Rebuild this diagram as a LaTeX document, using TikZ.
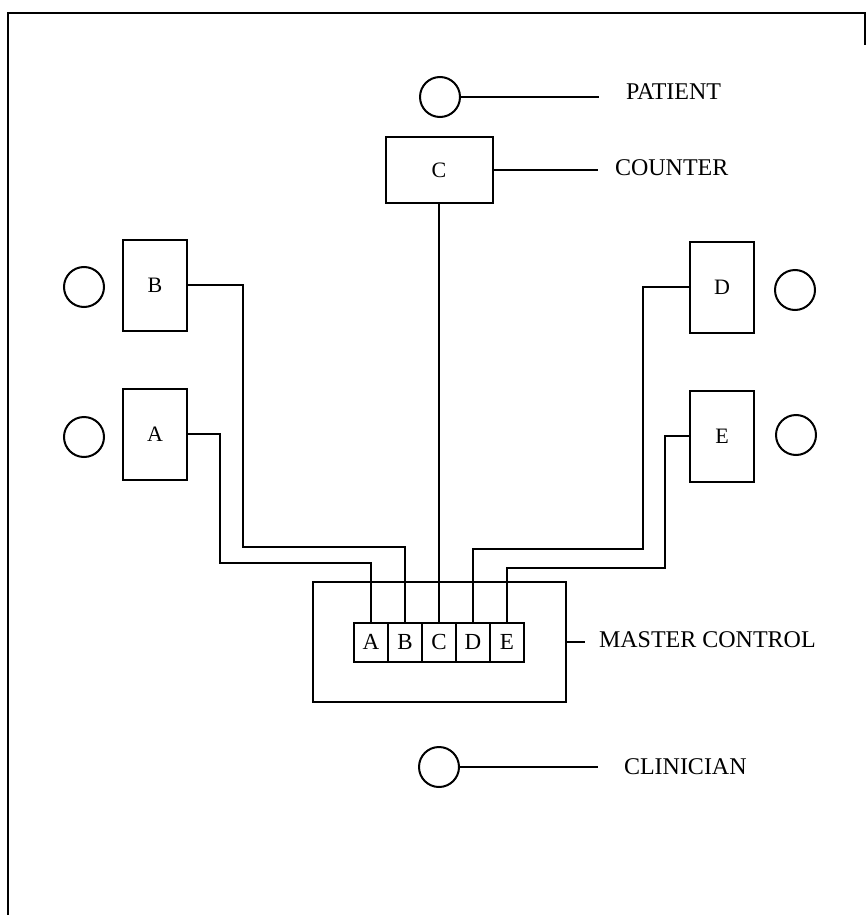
\documentclass[tikz,border=0pt]{standalone}
\usepackage{fontspec}
\setmainfont{Liberation Serif}
\usetikzlibrary{positioning,calc}

\begin{document}
\begin{tikzpicture}[x=1pt,y=-1pt,line width=2pt]
    \tikzset{station/.style={draw,minimum width=64pt,minimum height=91pt,
      font=\fontsize{22}{24}\selectfont},
      lamp/.style={draw,circle,minimum size=40pt,inner sep=0pt},
      key/.style={draw,minimum width=34pt,minimum height=39pt,inner sep=0pt,
      font=\fontsize{23}{24}\selectfont},
      tag/.style={anchor=west,inner sep=0pt,font=\fontsize{24}{26}\selectfont}}
    \useasboundingbox (0,0) rectangle (867,915);

    % frame
    \draw[line width=2.2pt] (865,45) -- (865,13) -- (8,13) -- (8,915);

    % stations with their lamps
    \foreach \x/\y/\id in {155/285/B,155/434/A,722/287/D,722/436/E}{
      \node[station] (st\id) at (\x,\y) {\id};
    }
    \foreach \x/\y/\id in {84/287/B,84/437/A,795/290/D,796/435/E}{
      \node[lamp] (lp\id) at (\x,\y) {};
    }

    % patient and counter
    \node[lamp] (patient) at (440,97) {};
    \node[draw,minimum width=107pt,minimum height=66pt,
      font=\fontsize{22}{24}\selectfont] (counter) at (439,170) {C};

    % master control
    \node[draw,minimum width=253pt,minimum height=120pt] (master) at (439.5,642) {};
    \foreach \x/\id in {371/A,405/B,439/C,473/D,507/E}{
      \node[key] (k\id) at (\x,642) {\id};
    }

    % clinician
    \node[lamp] (clinician) at (439,767) {};

    % wiring
    \draw (stA.east) -| (220,563) -| (kA.north);
    \draw (stB.east) -| (243,547) -| (kB.north);
    \draw (counter.south) -- (kC.north);
    \draw (stD.west) -| (643,549) -| (kD.north);
    \draw (stE.west) -| (665,568) -| (kE.north);

    % labels
    \node[tag] (tPatient) at (625,92) {PATIENT};
    \node[tag] (tCounter) at (614,168) {COUNTER};
    \node[tag] (tMaster) at (598,640) {MASTER CONTROL};
    \node[tag] (tClinician) at (623,766.5) {CLINICIAN};
    \draw[shorten >=26pt] (patient) -- (patient -| tPatient.west);
    \draw[shorten >=16pt] (counter.east) -- (counter.east -| tCounter.west);
    \draw[shorten >=13pt] (master.east) -- (master.east -| tMaster.west);
    \draw[shorten >=25pt] (clinician) -- (clinician -| tClinician.west);
  \end{tikzpicture}
\end{document}
